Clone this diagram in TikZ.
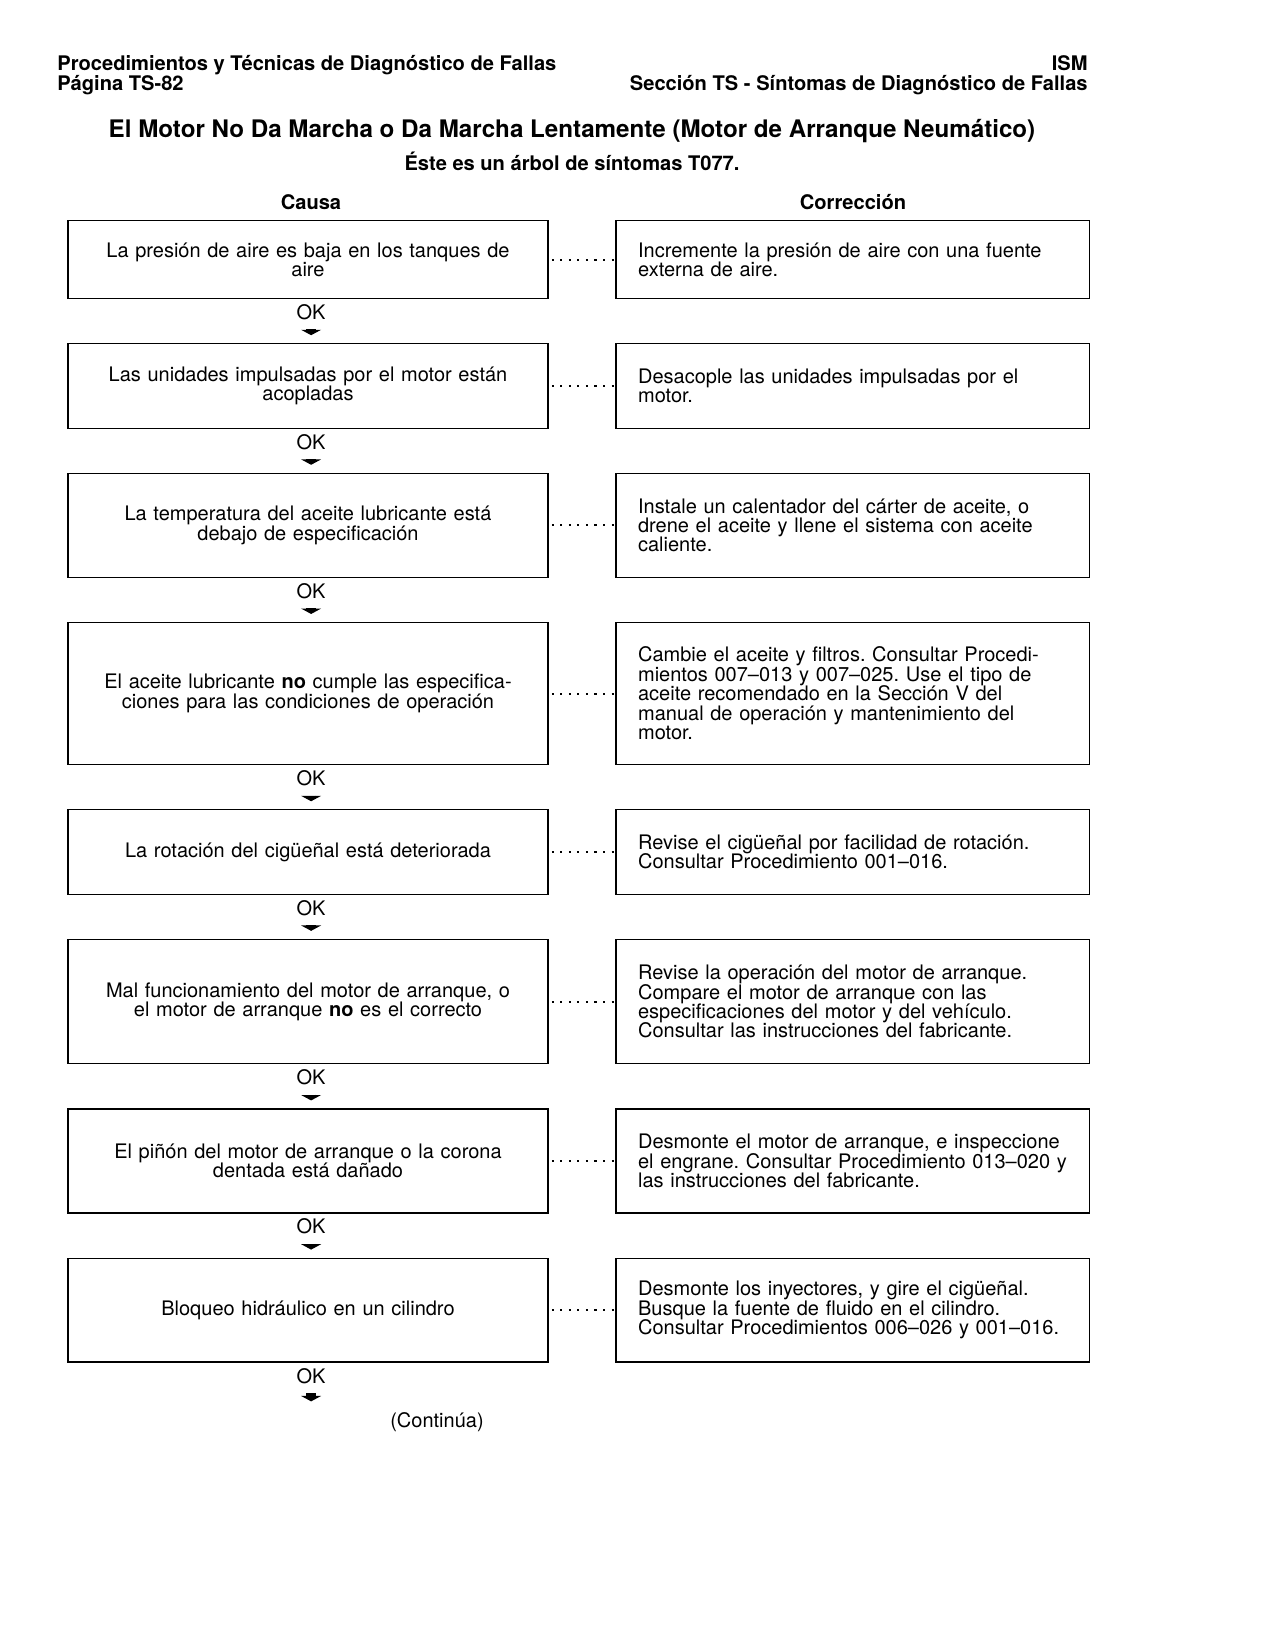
\documentclass[tikz,border=0pt]{standalone}
\usepackage{fontspec}
\setmainfont{TeX Gyre Heros}
\usetikzlibrary{positioning}
\usetikzlibrary{arrows.meta}
\frenchspacing
\lineskiplimit=-9pt
\lineskip=0pt

\tikzset{
    txt/.style={font=\fontsize{9.6}{9.3}\selectfont},
    causebox/.style={txt,draw,line width=0.6pt,minimum width=230.4pt,
        text width=214.4pt,inner xsep=8pt,text height=7pt,align=center},
    fixbox/.style={txt,draw,line width=0.6pt,minimum width=227.3pt,
        text width=206pt,inner xsep=10.65pt,text height=7pt,align=left},
    oklabel/.style={txt,inner sep=0pt,xshift=1.5pt},
    okarrow/.style={line width=5pt,-{Triangle[width=9.5pt,length=2.6pt]},
        shorten <=4.4pt,shorten >=3.8pt},
    dotlink/.style={line width=1pt,dash pattern=on 1pt off 3.1pt,dash phase=-1.5pt},
    heading/.style={font=\fontsize{9.65}{9.6}\selectfont\bfseries}
}

\begin{document}
\begin{tikzpicture}[x=0.48pt,y=-0.48pt,node distance=21.1pt and 32pt]
    \useasboundingbox (0,0) rectangle (1275,1650);
    % page header
    \node[heading,anchor=west,align=left,inner sep=0pt] (headl) at (57,75)
        {Procedimientos y Técnicas de Diagnóstico de Fallas\\Página TS-82};
    \node[heading,anchor=east,align=right,inner sep=0pt] (headr) at (1088,75)
        {ISM\\Sección TS - Síntomas de Diagnóstico de Fallas};
    \node[font=\fontsize{11.6}{13}\selectfont\bfseries] (title) at (572,131)
        {El Motor No Da Marcha o Da Marcha Lentamente (Motor de Arranque Neumático)};
    \node[heading] (sub) at (572,161) {Éste es un árbol de síntomas T077.};
    \node[heading] (causa) at (311,202) {Causa};
    \node[heading] (corr) at (853,202) {Corrección};

    % left column: causes
    \node[causebox,minimum height=37.4pt,anchor=north] (c1) at (308,220)
        {La presión de aire es baja en los tanques de\\aire};
    \node[causebox,minimum height=40.5pt,below=of c1] (c2)
        {Las unidades impulsadas por el motor están\\acopladas};
    \node[causebox,minimum height=49.9pt,below=of c2] (c3)
        {La temperatura del aceite lubricante está\\debajo de especificación};
    \node[causebox,minimum height=68.2pt,below=of c3] (c4)
        {El aceite lubricante \textbf{no} cumple las especifica-\\ciones para las condiciones de operación};
    \node[causebox,minimum height=40.5pt,below=of c4] (c5)
        {La rotación del cigüeñal está deteriorada};
    \node[causebox,minimum height=59.7pt,below=of c5] (c6)
        {Mal funcionamiento del motor de arranque, o\\el motor de arranque \textbf{no} es el correcto};
    \node[causebox,minimum height=49.9pt,below=of c6] (c7)
        {El piñón del motor de arranque o la corona\\dentada está dañado};
    \node[causebox,minimum height=49.9pt,below=of c7] (c8)
        {Bloqueo hidráulico en un cilindro};

    % right column: corrections
    \node[fixbox,minimum height=37.4pt,right=of c1] (r1)
        {Incremente la presión de aire con una fuente\\externa de aire.};
    \node[fixbox,minimum height=40.5pt,right=of c2] (r2)
        {Desacople las unidades impulsadas por el\\motor.};
    \node[fixbox,minimum height=49.9pt,right=of c3] (r3)
        {Instale un calentador del cárter de aceite, o\\drene el aceite y llene el sistema con aceite\\caliente.};
    \node[fixbox,minimum height=68.2pt,right=of c4] (r4)
        {Cambie el aceite y filtros. Consultar Procedi-\\mientos 007–013 y 007–025. Use el tipo de\\aceite recomendado en la Sección V del\\manual de operación y mantenimiento del\\motor.};
    \node[fixbox,minimum height=40.5pt,right=of c5] (r5)
        {Revise el cigüeñal por facilidad de rotación.\\Consultar Procedimiento 001–016.};
    \node[fixbox,minimum height=59.7pt,right=of c6] (r6)
        {Revise la operación del motor de arranque.\\Compare el motor de arranque con las\\especificaciones del motor y del vehículo.\\Consultar las instrucciones del fabricante.};
    \node[fixbox,minimum height=49.9pt,right=of c7] (r7)
        {Desmonte el motor de arranque, e inspeccione\\el engrane. Consultar Procedimiento 013–020 y\\las instrucciones del fabricante.};
    \node[fixbox,minimum height=49.9pt,right=of c8] (r8)
        {Desmonte los inyectores, y gire el cigüeñal.\\Busque la fuente de fluido en el cilindro.\\Consultar Procedimientos 006–026 y 001–016.};

    % OK labels and arrows
    \node[oklabel,below=2.4pt of c1] (ok1) {OK};
    \node[oklabel,below=2.4pt of c2] (ok2) {OK};
    \node[oklabel,below=2.4pt of c3] (ok3) {OK};
    \node[oklabel,below=2.4pt of c4] (ok4) {OK};
    \node[oklabel,below=2.4pt of c5] (ok5) {OK};
    \node[oklabel,below=2.4pt of c6] (ok6) {OK};
    \node[oklabel,below=2.4pt of c7] (ok7) {OK};
    \node[oklabel,below=2.4pt of c8] (ok8) {OK};
    \coordinate[below=12.2pt of ok8] (tail);

    \draw[okarrow] (ok1) -- (ok1 |- c2.north);
    \draw[okarrow] (ok2) -- (ok2 |- c3.north);
    \draw[okarrow] (ok3) -- (ok3 |- c4.north);
    \draw[okarrow] (ok4) -- (ok4 |- c5.north);
    \draw[okarrow] (ok5) -- (ok5 |- c6.north);
    \draw[okarrow] (ok6) -- (ok6 |- c7.north);
    \draw[okarrow] (ok7) -- (ok7 |- c8.north);
    \draw[okarrow] (ok8) -- (tail);

    % dotted links cause -- correction
    \draw[dotlink] (c1) -- (r1);
    \draw[dotlink] (c2) -- (r2);
    \draw[dotlink] (c3) -- (r3);
    \draw[dotlink] (c4) -- (r4);
    \draw[dotlink] (c5) -- (r5);
    \draw[dotlink] (c6) -- (r6);
    \draw[dotlink] (c7) -- (r7);
    \draw[dotlink] (c8) -- (r8);

    \node[txt] (cont) at (437,1422) {(Continúa)};
\end{tikzpicture}
\end{document}
